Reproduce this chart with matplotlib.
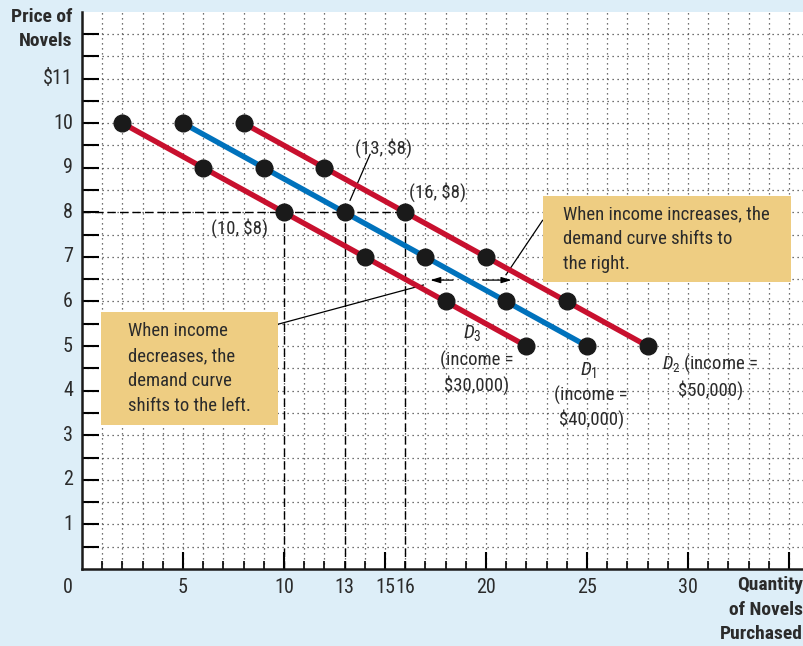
import matplotlib
matplotlib.use('Agg')
import matplotlib.pyplot as plt
import matplotlib.patches as patches
import numpy as np

FONT = 'Roboto Condensed'
plt.rcParams['font.family'] = [FONT, 'DejaVu Sans']
plt.rcParams['mathtext.fontset'] = 'custom'
plt.rcParams['mathtext.rm'] = FONT
plt.rcParams['mathtext.it'] = FONT + ':italic'

# demand schedules (quantity, price)
prices = [10, 9, 8, 7, 6, 5]
qty_d3 = [2, 6, 10, 14, 18, 22]
qty_d1 = [5, 9, 13, 17, 21, 25]
qty_d2 = [8, 12, 16, 20, 24, 28]

xtick_vals = [5, 10, 13, 15, 16, 20, 25, 30]
ytick_vals = [1, 2, 3, 4, 5, 6, 7, 8, 9, 10, 11]
ytick_labels = ['1', '2', '3', '4', '5', '6', '7', '8', '9', '10', '$11']
marked_q = [10, 13, 16]
marked_p = 8

red = '#c8102e'
blue = '#0072bc'
box_col = '#eecd82'
bg = '#ddeef8'
tc = '#2b2b2b'

fig = plt.figure(figsize=(8.04, 6.46), dpi=100)
fig.patch.set_facecolor(bg)
ax = fig.add_axes([0.102, 0.1192, 0.898, 0.862])
ax.set_xlim(0, 35.74)
ax.set_ylim(0, 12.49)

# dotted grid
for x in range(1, 36):
    ax.axvline(x, color='#444444', lw=0.9, ls=(0, (1, 3)), zorder=0)
for y in np.arange(0.5, 12.5, 0.5):
    ax.axhline(y, color='#444444', lw=0.9, ls=(0, (1, 3)), zorder=0)

# dashed guide lines
ax.plot([0, marked_q[-1]], [marked_p, marked_p], color='black', lw=1, ls=(0, (6, 3)), zorder=1)
for q in marked_q:
    ax.plot([q, q], [0, marked_p], color='black', lw=1, ls=(0, (6, 3)), zorder=1)

for qs, c in [(qty_d3, red), (qty_d1, blue), (qty_d2, red)]:
    ax.plot(qs, prices, color=c, lw=3.9, zorder=3, solid_capstyle='butt')
    ax.plot(qs, prices, 'o', color='#1a1a1a', ms=12, zorder=4)

# spines / ticks
for s in ['top', 'right']:
    ax.spines[s].set_visible(False)
for s in ['left', 'bottom']:
    ax.spines[s].set_linewidth(1.8)
    ax.spines[s].set_color('#1a1a1a')

ax.set_xticks(np.arange(5, 36, 5))
ax.set_xticks(np.arange(1, 36, 1), minor=True)
ax.tick_params(axis='x', which='major', direction='in', length=12, width=1.5, labelbottom=False)
ax.tick_params(axis='x', which='minor', direction='in', length=6, width=1.2)
ax.set_yticks(np.arange(0.5, 12.5, 0.5))
ax.tick_params(axis='y', which='major', direction='in', length=12, width=1.5, labelleft=False)

for v in xtick_vals:
    ax.text(v, -0.2, str(v), ha='center', va='top', fontsize=14.5, color=tc)
for v, lab in zip(ytick_vals, ytick_labels):
    ax.text(-0.45, v, lab, ha='right', va='center', fontsize=14.5, color=tc)
ax.text(-0.45, -0.2, '0', ha='right', va='top', fontsize=14.5, color=tc)

fig.text(0.090, 0.988, 'Price of\nNovels', ha='right', va='top', fontsize=14,
         fontweight='bold', color=tc, linespacing=1.45)
fig.text(0.999, 0.108, 'Quantity\nof Novels\nPurchased', ha='right', va='top', fontsize=14,
         fontweight='bold', color=tc, linespacing=1.45)

# point labels
ax.text(14.9, 9.44, '(13, $8)', ha='center', va='center', fontsize=13.5, color=tc)
ax.plot([13.27, 14.26], [8.27, 9.3], color='black', lw=0.9, zorder=2)
ax.text(17.6, 8.45, '(16, $8)', ha='center', va='center', fontsize=13.5, color=tc)
ax.text(7.8, 7.65, '(10, $8)', ha='center', va='center', fontsize=13.5, color=tc)

# curve labels
ax.text(19.3, 5.3, '$D_3$', ha='center', va='center', fontsize=14, color=tc)
ax.text(19.55, 4.4, '(income =\n$30,000)', ha='center', va='center', fontsize=13.5,
        color=tc, linespacing=1.3)
ax.text(25.05, 4.46, '$D_1$', ha='center', va='center', fontsize=14, color=tc)
ax.text(25.2, 3.62, '(income =\n$40,000)', ha='center', va='center', fontsize=13.5,
        color=tc, linespacing=1.3)
ax.text(31.1, 4.32, '$D_2$ (income =\n$50,000)', ha='center', va='center', fontsize=13.5,
        color=tc, linespacing=1.3)

# callout boxes
ax.add_patch(patches.Rectangle((22.8, 6.43), 12.3, 1.93, facecolor=box_col,
                               edgecolor='none', zorder=5))
ax.text(23.8, 7.4, 'When income increases, the\ndemand curve shifts to\nthe right.',
        ha='left', va='center', fontsize=13.5, color=tc, linespacing=1.5, zorder=6)
ax.add_patch(patches.Rectangle((0.94, 3.23), 8.76, 2.53, facecolor=box_col,
                               edgecolor='none', zorder=5))
ax.text(2.28, 4.5, 'When income\ndecreases, the\ndemand curve\nshifts to the left.',
        ha='left', va='center', fontsize=13.5, color=tc, linespacing=1.5, zorder=6)

ax.plot([22.8, 20.99], [7.82, 6.6], color='black', lw=0.9, zorder=2)
ax.plot([9.7, 16.9], [5.49, 6.37], color='black', lw=0.9, zorder=2)

ax.annotate('', xy=(21.4, 6.48), xytext=(19.7, 6.48),
            arrowprops=dict(arrowstyle='-|>,head_length=0.6,head_width=0.18', color='black', lw=0.9))
ax.annotate('', xy=(17.1, 6.48), xytext=(18.5, 6.48),
            arrowprops=dict(arrowstyle='-|>,head_length=0.6,head_width=0.18', color='black', lw=0.9))

plt.savefig('out.png', dpi=100, facecolor=bg)
